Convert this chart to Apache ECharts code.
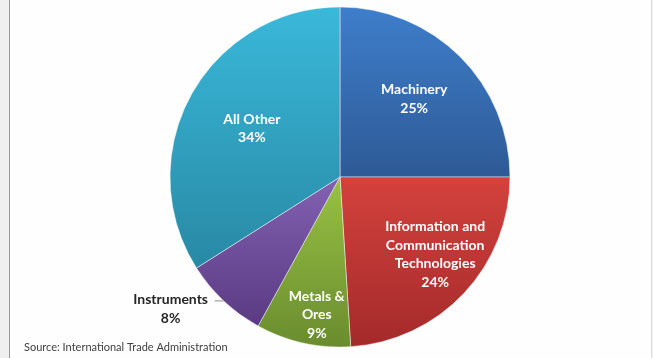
<!DOCTYPE html>
<html>
<head>
<meta charset="utf-8">
<script src="https://cdn.jsdelivr.net/npm/echarts@6/dist/echarts.min.js"></script>
<style>
  html, body { margin: 0; padding: 0; width: 653px; height: 358px; overflow: hidden; background: #efefef; }
  #frame { position: absolute; left: 9px; top: 0; width: 641px; height: 358px; background: #fefefe; border-left: 1px solid #9a9a9a; border-right: 1px solid #dcdcdc; }
  #chart { position: absolute; left: 0; top: 0; width: 653px; height: 358px; }
</style>
</head>
<body>
<div id="frame"></div>
<div id="chart"></div>
<script>
const categories = ['Machinery', 'Information and\nCommunication\nTechnologies', 'Metals &\nOres', 'Instruments', 'All Other'];
const values = [25, 24, 9, 8, 34];
const topColors = ['#3e7ecb', '#d4423d', '#98c244', '#8262b2', '#3ab8da'];
const bottomColors = ['#2e5a96', '#a32a2a', '#6a8c2e', '#5a3a82', '#2889a4'];
const labelOffsets = [[12, -16], [31, 17], [-4, 52], [0, 0], [-11, -6]];

const chart = echarts.init(document.getElementById('chart'), null, { renderer: 'canvas' });

const data = categories.map((name, i) => {
  const item = {
    name: name,
    value: values[i],
    itemStyle: {
      color: new echarts.graphic.LinearGradient(0, 0, 0, 1, [
        { offset: 0, color: topColors[i] },
        { offset: 1, color: bottomColors[i] }
      ])
    }
  };
  if (name === 'Instruments') {
    item.label = {
      position: 'outside',
      color: '#262626',
      padding: [17, 0, 0, 0],
      formatter: p => '{c|' + p.name + '}\n{c|' + Math.round(p.percent) + '%}',
      rich: { c: { width: 78, align: 'center', fontFamily: 'Lato', fontWeight: 'bold', fontSize: 14, lineHeight: 19, color: '#262626' } }
    };
    item.labelLine = { show: true, length: 0, length2: 9, lineStyle: { color: '#8c8c8c', width: 1 } };
  }
  return item;
});

chart.setOption({
  animation: false,
  title: {
    text: 'Source: International Trade Administration',
    left: 19,
    bottom: 0,
    textStyle: { fontFamily: 'Lato', fontWeight: 'normal', fontSize: 11, color: '#404040' }
  },
  series: [{
    type: 'pie',
    center: [340, 177],
    radius: 170,
    startAngle: 90,
    clockwise: true,
    avoidLabelOverlap: false,
    itemStyle: { borderColor: 'rgba(255,255,255,0.45)', borderWidth: 1 },
    label: {
      show: true,
      position: 'inside',
      color: '#ffffff',
      fontFamily: 'Lato',
      fontWeight: 'bold',
      fontSize: 14,
      lineHeight: 18.5,
      align: 'center',
      formatter: p => p.name + '\n' + Math.round(p.percent) + '%'
    },
    labelLine: { show: false },
    labelLayout: p => {
      const o = labelOffsets[p.dataIndex];
      return { dx: o[0], dy: o[1] };
    },
    emphasis: { disabled: true },
    data: data
  }]
});
</script>
</body>
</html>
